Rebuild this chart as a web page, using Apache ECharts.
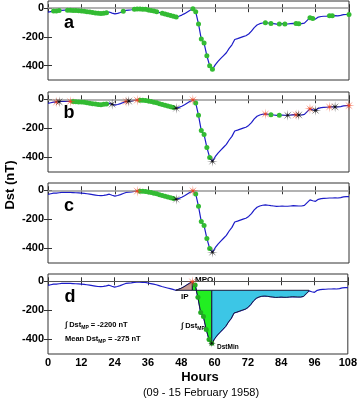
<!DOCTYPE html>
<html><head><meta charset="utf-8">
<script src="https://cdn.jsdelivr.net/npm/echarts@6/dist/echarts.min.js"></script>
<style>html,body{margin:0;padding:0;background:#fff}#c{width:360px;height:401px}</style>
</head><body><div id="c"></div>
<script>
// Hourly Dst (nT), hour 0 = 09 Feb 1958 00 UT
const dst = [-28,-24,-20,-19,-17,-15,-14,-14,-15,-16,-17,-18,-19,-21,-24,-27,-30,-33,-36,-37,
-35,-32,-27,-34,-40,-36,-30,-22,-15,-13,-11,-8,-6,-6,-7,-8,-12,-16,-20,-24,
-30,-36,-41,-46,-51,-56,-62,-56,-48,-38,-26,-14,-4,-25,-110,-215,-243,-331,-400,-426,
-395,-370,-350,-330,-310,-280,-255,-218,-212,-205,-198,-192,-180,-160,-135,-117,-108,-103,-101,-103,
-106,-108,-111,-110,-108,-110,-110,-108,-106,-107,-108,-108,-104,-85,-66,-72,-76,-62,-58,-56,
-55,-53,-53,-52,-53,-50,-45,-44,-44];
const hourTicks = [0,12,24,36,48,60,72,84,96,108];
const dstTicks = [0,-200,-400];
const panelLetters = ['a','b','c','d'];
// marker hours
const greenA = [2,3,4,7,8,9,10,11,12,13,14,15,16,17,18,19,20,21,27,31,32,33,34,35,36,37,38,39,41,42,43,44,45,46,52,53,54,55,56,57,58,59,78,80,83,85,89,90,94,95,101,102,108];
const greenB = [9,10,11,12,13,14,15,16,17,18,19,20,21,33,34,35,36,37,38,39,40,41,42,43,44,45,53,54,55,56,57,58,80,83];
const redB = [3,8,28,32,52,78,89,94,101,108];
const blackB = [4,23,29,46,59,86,90,96,103];
const greenC = [33,34,35,36,37,38,39,40,41,42,43,44,45,53,54,55,56,57,58];
const redC = [32,52];
const blackC = [46,59];
const greenD = [53,54,55,56,57,58,59];
const redD = [52];
const blackD = [59];
// phase regions (panel d): [start hour, end hour]
const baseline = -62;
const phases = [[46,52],[52,59],[59,94]];
const phaseColors = ['#c59a92','#22ee22','#3cc6e6'];

function starPath(){
  let p = '';
  for (let k=0;k<16;k++){
    const r = k%2===0 ? 1 : 0.16;
    const a = k*Math.PI/8;
    p += (k===0?'M':'L') + (r*Math.cos(a)).toFixed(3) + ' ' + (r*Math.sin(a)).toFixed(3) + ' ';
  }
  return 'path://' + p + 'Z';
}
const STAR = starPath();

const tops = [1,92,183,274];
const heights = [79,80,80,80];
const grids=[], xAxes=[], yAxes=[], series=[];
const pts = hs => hs.map(h => [h, dst[h]]);

tops.forEach((t,i)=>{
  grids.push({left:48, right:11, top:t, height:heights[i], show:true, borderColor:'#333', borderWidth:1, backgroundColor:'transparent'});
  const last = i===3;
  const xBase = {gridIndex:i, type:'value', min:0, max:108, interval:12, axisLine:{show:false}, splitLine:{show:false},
    axisTick:{show:true, inside:true, length:4, lineStyle:{color:'#333'}}};
  xAxes.push(Object.assign({}, xBase, {position:'bottom', axisLabel:{show:last, margin:3, color:'#000', fontWeight:'bold', fontSize:11, fontFamily:'Arial, Liberation Sans'}}));
  xAxes.push(Object.assign({}, xBase, {position:'top', axisLabel:{show:false}}));
  const yBase = {gridIndex:i, type:'value', min:-500, max:50, interval:100, axisLine:{show:false}, splitLine:{show:false},
    axisTick:{show:true, inside:true, length:4, lineStyle:{color:'#333'}, customValues:dstTicks}};
  yAxes.push(Object.assign({}, yBase, {position:'left', axisLabel:{show:true, margin:4, color:'#000', fontWeight:'bold', fontSize:11, fontFamily:'Arial, Liberation Sans', customValues:dstTicks,
    formatter: v => dstTicks.includes(v) ? String(v) : ''}}));
  yAxes.push(Object.assign({}, yBase, {position:'right', axisLabel:{show:false}}));

  series.push({type:'line', xAxisIndex:2*i, yAxisIndex:2*i, data: dst.map((v,h)=>[h,v]), symbol:'none', z:2,
    lineStyle:{color:'#1c1cc8', width:1.2},
    markLine:{silent:true, symbol:'none', label:{show:false}, data:[{yAxis:0}],
      lineStyle:{color: last ? '#555' : '#999', width: last ? 1 : 1.6, type:'solid'}}});
});

function scatter(i, hs, color, sym, size, z){
  series.push({type:'scatter', xAxisIndex:2*i, yAxisIndex:2*i, data:pts(hs), symbol:sym, symbolSize:size, z:z,
    itemStyle:{color:color, opacity:1}});
}
// panel d fills
series.push({type:'custom', xAxisIndex:6, yAxisIndex:6, z:3, data:phases,
  renderItem:(params, api)=>{
    const s = api.value(0), e = api.value(1);
    const p = [];
    for (let h=s; h<=e; h++) p.push(api.coord([h, dst[h]]));
    p.push(api.coord([e, baseline]));
    p.push(api.coord([s, baseline]));
    return {type:'polygon', shape:{points:p}, style:{fill:phaseColors[params.dataIndex], stroke:'#1a1a3a', lineWidth:1}};
  }});

scatter(0, greenA, '#33bb33', 'circle', 5, 5);
scatter(1, greenB, '#33bb33', 'circle', 5, 5);
scatter(1, redB, '#ee4422', STAR, 11, 6);
scatter(1, blackB, '#111', STAR, 11, 6);
scatter(2, greenC, '#33bb33', 'circle', 5, 5);
scatter(2, redC, '#ee4422', STAR, 11, 6);
scatter(2, blackC, '#111', STAR, 11, 6);
scatter(3, greenD, '#22aa22', 'circle', 5, 5);
scatter(3, redD, '#ee4422', STAR, 11, 6);
scatter(3, blackD, '#111', STAR, 9, 6);

const F = 'Arial, Liberation Sans, sans-serif';
const letterPos = [[69,23],[69,113],[69,206],[70,297]];
const graphic = [];
panelLetters.forEach((l,i)=>graphic.push({type:'text', x:letterPos[i][0], y:letterPos[i][1],
  style:{text:l, font:'bold 18px '+F, fill:'#000', align:'center', verticalAlign:'middle'}}));
graphic.push({type:'text', x:10, y:185, rotation:Math.PI/2,
  style:{text:'Dst (nT)', font:'bold 13px '+F, fill:'#000', align:'center', verticalAlign:'middle'}});
graphic.push({type:'text', x:200, y:377, style:{text:'Hours', font:'bold 13px '+F, fill:'#000', align:'center', verticalAlign:'middle'}});
graphic.push({type:'text', x:201, y:393, style:{text:'(09 - 15 February 1958)', font:'11px '+F, fill:'#000', align:'center', verticalAlign:'middle'}});
const rich = {n:{font:'bold 7.5px '+F, fill:'#000'}, s:{font:'bold 5px '+F, fill:'#000', padding:[5,0,0,0]}};
function rt(x,y,text){ graphic.push({type:'text', x:x, y:y, style:{text:text, rich:rich, align:'left', verticalAlign:'middle'}}); }
rt(65,325,'{n|∫ Dst}{s|MP}{n| = -2200 nT}');
rt(65,339,'{n|Mean Dst}{s|MP}{n| = -275 nT}');
rt(181,326,'{n|∫ Dst}{s|MP}');
const lab = (x,y,t,sz)=>graphic.push({type:'text', x:x, y:y, style:{text:t, font:'bold '+sz+'px '+F, fill:'#000', align:'left', verticalAlign:'middle'}});
lab(195,280,'MPO',8);
lab(181,297,'IP',8);
lab(203,312,'MP',8.5);
lab(223,312,'RP',9);
lab(217,347,'DstMin',6.5);

const chart = echarts.init(document.getElementById('c'), null, {renderer:'canvas'});
chart.setOption({animation:false, backgroundColor:'#fff', grid:grids, xAxis:xAxes, yAxis:yAxes, series:series, graphic:graphic});
</script></body></html>
